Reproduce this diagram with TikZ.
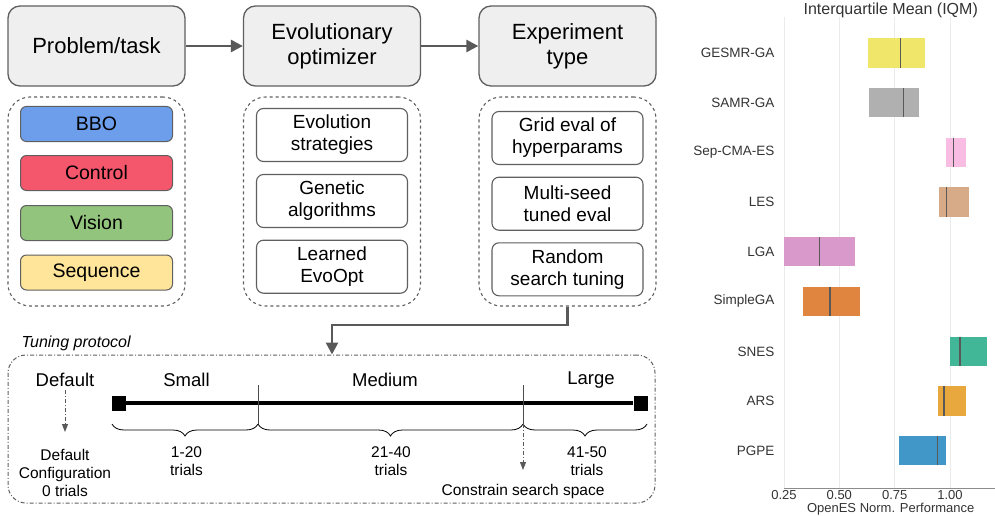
\documentclass[tikz,border=0pt]{standalone}
\usepackage{fontspec}
\setmainfont{Liberation Sans}
\usetikzlibrary{arrows.meta,decorations.pathreplacing}
\definecolor{boxgray}{HTML}{EFEFEF}
\definecolor{edgegray}{HTML}{5F5F5F}
\definecolor{arrgray}{HTML}{595959}
\definecolor{cbbo}{HTML}{6D9EEB}
\definecolor{cctrl}{HTML}{F4566B}
\definecolor{cvis}{HTML}{93C47D}
\definecolor{cseq}{HTML}{FFE599}
\definecolor{gridc}{HTML}{EBEBEB}
\definecolor{txtc}{HTML}{333333}
\definecolor{cgesmr}{HTML}{F0E76A}
\definecolor{csamr}{HTML}{B0B0B0}
\definecolor{csepcma}{HTML}{F9BDE4}
\definecolor{cles}{HTML}{D8AB88}
\definecolor{clga}{HTML}{D99ACB}
\definecolor{csimple}{HTML}{E0853F}
\definecolor{csnes}{HTML}{42B797}
\definecolor{cars}{HTML}{E8A83D}
\definecolor{cpgpe}{HTML}{4197C8}
\newcommand{\iqmbar}[7]{%
  \fill[#2] (#3,#5) rectangle (#4,#6);
  \draw[medline] (#7,#5) -- (#7,#6);
  \node[barlabel] at (778,{(#5+#6)/2}) {#1};}
\begin{document}
\begin{tikzpicture}[x=1pt,y=-1pt,
  topbox/.style={draw=edgegray, line width=1.3pt, fill=boxgray, rounded corners=12pt,
    minimum width=177pt, minimum height=80pt, inner sep=0pt, align=center,
    font=\fontsize{22}{25}\selectfont},
  dashbox/.style={draw=edgegray, dashed, line width=1.1pt, rounded corners=22pt,
    minimum width=177pt, minimum height=209pt, inner sep=0pt},
  colbox/.style={draw=edgegray, line width=1pt, rounded corners=6pt,
    minimum width=152pt, minimum height=35pt, inner sep=0pt,
    font=\fontsize{19.5}{22}\selectfont},
  itembox/.style={draw=edgegray, line width=1.1pt, fill=white, rounded corners=7pt,
    minimum width=151pt, minimum height=53pt, inner sep=0pt, align=center,
    font=\fontsize{19}{22}\selectfont},
  arr/.style={draw=arrgray, line width=2.6pt, -{Triangle[length=12pt,width=12pt]}},
  dashdot/.style={draw=arrgray, line width=0.9pt,
    dash pattern=on 4pt off 2pt on 1pt off 2pt},
  ddarr/.style={dashdot, -{Triangle[length=8pt,width=6pt]}},
  head/.style={font=\fontsize{18.5}{21}\selectfont},
  small/.style={font=\fontsize{15.5}{18}\selectfont, align=center},
  brc/.style={draw=black, line width=0.8pt, decorate,
    decoration={brace, mirror, amplitude=12pt}},
  barlabel/.style={anchor=east, font=\fontsize{13.5}{15}\selectfont, text=txtc},
  medline/.style={draw=black!65, line width=1.2pt},
  ticklab/.style={font=\fontsize{13}{15}\selectfont, text=txtc, inner sep=0.5pt}]
\useasboundingbox (0,0) rectangle (995,516);

% top row
\node[topbox] (pt) at (96.5,46) {Problem/task};
\node[topbox] (eo) at (332,46) {Evolutionary\\optimizer};
\node[topbox] (et) at (567.5,46) {Experiment\\type};
\draw[arr] (pt.east) -- (eo.west);
\draw[arr] (eo.east) -- (et.west);

% containers
\node[dashbox] (c1) at (96.5,201.5) {};
\node[dashbox] (c2) at (332,201.5) {};
\node[dashbox] (c3) at (567.5,201.5) {};

\node[colbox, fill=cbbo] (bbo) at (96.5,124) {BBO};
\node[colbox, fill=cctrl] (ctrl) at (96.5,173) {Control};
\node[colbox, fill=cvis] (vis) at (96.5,223) {Vision};
\node[colbox, fill=cseq] (seq) at (96.5,272.5) {Sequence};

\node[itembox] (es) at (332,135) {Evolution\\strategies};
\node[itembox] (ga) at (332,201) {Genetic\\algorithms};
\node[itembox] (leo) at (332,266.7) {Learned\\EvoOpt};

\node[itembox] (grid) at (567.5,138) {Grid eval of\\hyperparams};
\node[itembox] (multi) at (567.5,203.7) {Multi-seed\\tuned eval};
\node[itembox] (rand) at (567.5,269.3) {Random\\search tuning};

% tuning protocol
\node[draw=edgegray, line width=1pt, dash pattern=on 4pt off 2pt on 1pt off 2pt,
  rounded corners=18pt, minimum width=647pt, minimum height=148pt, inner sep=0pt]
  (tp) at (331.5,429) {};
\node[anchor=west, font=\fontsize{16}{18}\selectfont\itshape] (tplab) at (18,343) {Tuning protocol};
\coordinate (bend) at (332,325);
\draw[arr] (c3.south) |- (bend) -- (tp.north -| bend);

% timeline
\node[fill=black, minimum width=14pt, minimum height=15pt, inner sep=0pt] (sq1) at (119,403) {};
\node[fill=black, minimum width=14pt, minimum height=15pt, inner sep=0pt] (sq2) at (640.5,403) {};
\draw[line width=4pt] (sq1) -- (sq2);
\coordinate (d1t) at (258,385); \coordinate (d1b) at (258,424);
\coordinate (d2t) at (523,385); \coordinate (d2b) at (523,424);
\draw[line width=0.7pt, black!70] (d1t) -- (d1b);
\draw[line width=0.7pt, black!70] (d2t) -- (d2b);
\coordinate (b0) at (112,424); \coordinate (b3) at (647,424);
\draw[brc] (b0) -- (d1b);
\draw[brc] (d1b) -- (d2b);
\draw[brc] (d2b) -- (b3);

\node[head] (hdef) at (65,380) {Default};
\node[head] (hsmall) at (186.5,380) {Small};
\node[head] (hmed) at (385,380) {Medium};
\node[head] (hlarge) at (591,380) {Large};

\coordinate (defa) at (65,432);
\draw[ddarr] (hdef.south) -- (defa);
\node[small] (tdef) at (65,473) {Default\\Configuration\\0 trials};
\node[small] (tsmall) at (186.5,461) {1-20\\trials};
\node[small] (tmed) at (391,461) {21-40\\trials};
\node[small] (tlarge) at (587,461) {41-50\\trials};
\coordinate (cona) at (523,470);
\draw[ddarr] (d2b) -- (cona);
\node[small] (tcon) at (523,491.5) {Constrain search space};

% chart
\foreach \gx in {784,839.3,894.7,950} {\draw[gridc, line width=0.8pt] (\gx,17) -- (\gx,488);}
\iqmbar{GESMR-GA}{cgesmr}{867.7}{925}{38.3}{67.7}{900.3}
\iqmbar{SAMR-GA}{csamr}{869.3}{919.3}{88.3}{117.3}{903.7}
\iqmbar{Sep-CMA-ES}{csepcma}{946}{965.7}{137.7}{166.7}{953.7}
\iqmbar{LES}{cles}{939}{968.7}{187.3}{216.7}{946.3}
\iqmbar{LGA}{clga}{784}{855}{237}{266}{819.3}
\iqmbar{SimpleGA}{csimple}{803.3}{860.3}{287}{316}{830}
\iqmbar{SNES}{csnes}{950}{987}{336.7}{366}{960}
\iqmbar{ARS}{cars}{938.3}{966.3}{386.3}{415.7}{944}
\iqmbar{PGPE}{cpgpe}{899}{946.3}{436}{465.3}{937.3}
\draw[black!45, line width=1.2pt] (784,488.5) -- (995,488.5);
\node[ticklab] at (784,495.5) {0.25};
\node[ticklab] at (839.3,495.5) {0.50};
\node[ticklab] at (894.7,495.5) {0.75};
\node[ticklab] at (950,495.5) {1.00};
\node[ticklab] at (890.7,509.5) {OpenES Norm. Performance};
\node[font=\fontsize{16}{18}\selectfont, text=txtc] at (890.7,10) {Interquartile Mean (IQM)};
\end{tikzpicture}
\end{document}
